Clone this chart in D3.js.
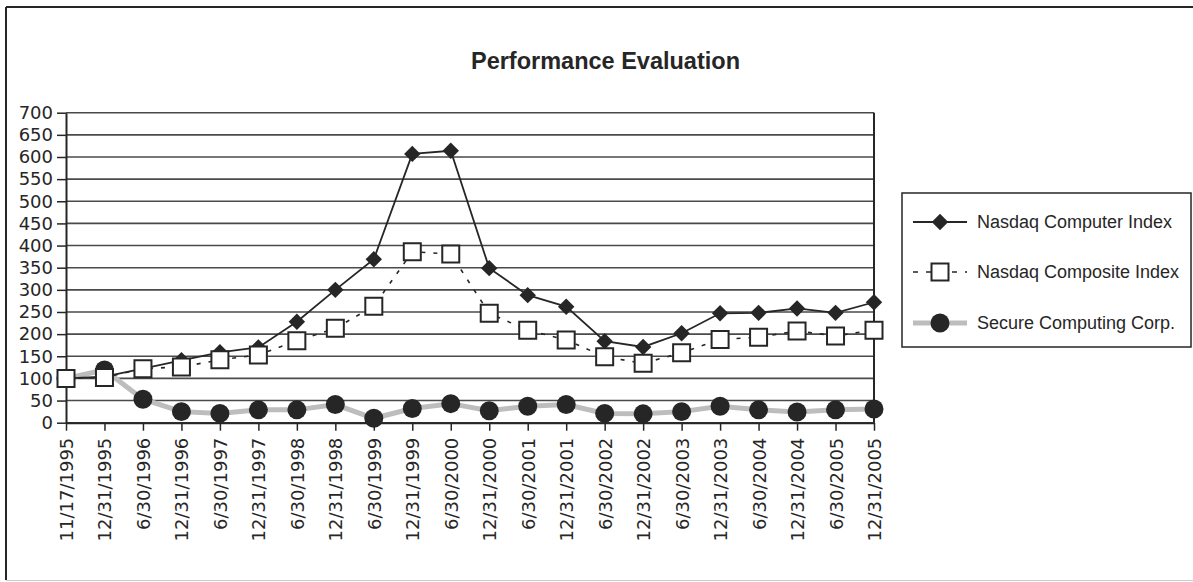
<!DOCTYPE html>
<html>
<head>
<meta charset="utf-8">
<script src="https://cdn.jsdelivr.net/npm/d3@7"></script>
<style>
  body { margin: 0; background: #fff; }
  svg { display: block; }
</style>
</head>
<body>
<div id="chart"></div>
<script>
// data
const dates = ["11/17/1995", "12/31/1995", "6/30/1996", "12/31/1996", "6/30/1997", "12/31/1997",
  "6/30/1998", "12/31/1998", "6/30/1999", "12/31/1999", "6/30/2000", "12/31/2000",
  "6/30/2001", "12/31/2001", "6/30/2002", "12/31/2002", "6/30/2003", "12/31/2003",
  "6/30/2004", "12/31/2004", "6/30/2005", "12/31/2005"];
const computerIndex = [100, 104, 122, 141, 159, 170, 228, 300, 369, 607, 614, 349,
  288, 262, 184, 171, 202, 247, 248, 258, 248, 272];
const compositeIndex = [100, 102, 122, 126, 142, 153, 185, 213, 263, 386, 381, 247,
  209, 187, 149, 134, 158, 188, 193, 207, 196, 209];
const secureComputing = [100, 119, 53, 25, 21, 29, 29, 41, 10, 32, 43, 27,
  37, 41, 21, 20, 25, 37, 29, 24, 29, 31];
const yTicks = [0, 50, 100, 150, 200, 250, 300, 350, 400, 450, 500, 550, 600, 650, 700];
const seriesNames = ["Nasdaq Computer Index", "Nasdaq Composite Index", "Secure Computing Corp."];

const W = 1193, H = 582;
const plot = {left: 66, right: 874, top: 112.7, bottom: 422.7};
const ink = "#262626";

const svg = d3.select("#chart").append("svg")
  .attr("width", W).attr("height", H);

// outer frame
svg.append("line").attr("x1", 6).attr("x2", 6).attr("y1", 7).attr("y2", 580)
  .attr("stroke", ink).attr("stroke-width", 2);
svg.append("line").attr("x1", 6).attr("x2", W).attr("y1", 7).attr("y2", 7)
  .attr("stroke", ink).attr("stroke-width", 2);
svg.append("line").attr("x1", 6).attr("x2", W).attr("y1", 580.5).attr("y2", 580.5)
  .attr("stroke", "#ccc").attr("stroke-width", 1);

svg.append("text")
  .attr("x", 605.5).attr("y", 69)
  .attr("text-anchor", "middle")
  .attr("font-family", "Liberation Sans, Arial, sans-serif")
  .attr("font-weight", "bold").attr("font-size", 23.5)
  .attr("fill", ink)
  .text("Performance Evaluation");

const x = d3.scalePoint().domain(dates).range([plot.left, plot.right]);
const y = d3.scaleLinear().domain([0, 700]).range([plot.bottom, plot.top]);

// gridlines
svg.append("g").selectAll("line").data(yTicks).join("line")
  .attr("x1", plot.left).attr("x2", plot.right)
  .attr("y1", d => y(d)).attr("y2", d => y(d))
  .attr("stroke", "#4a4a4a").attr("stroke-width", 1.6);

// plot frame right side
svg.append("line").attr("x1", plot.right).attr("x2", plot.right)
  .attr("y1", plot.top).attr("y2", plot.bottom)
  .attr("stroke", ink).attr("stroke-width", 2);

// axes
const yAxis = svg.append("g")
  .attr("transform", `translate(${plot.left},0)`)
  .call(d3.axisLeft(y).tickValues(yTicks).tickSize(9).tickPadding(4).tickSizeOuter(0));
yAxis.select(".domain").attr("stroke", ink).attr("stroke-width", 2);
yAxis.selectAll(".tick line").attr("stroke", ink).attr("stroke-width", 1.5);
yAxis.selectAll("text")
  .attr("font-family", "DejaVu Sans, sans-serif").attr("font-size", 18)
  .attr("fill", ink);

const xAxis = svg.append("g")
  .attr("transform", `translate(0,${plot.bottom})`)
  .call(d3.axisBottom(x).tickSize(8).tickSizeOuter(0));
xAxis.select(".domain").attr("stroke", ink).attr("stroke-width", 2);
xAxis.selectAll(".tick line").attr("stroke", ink).attr("stroke-width", 1.5);
xAxis.selectAll("text")
  .attr("font-family", "DejaVu Sans, sans-serif").attr("font-size", 18)
  .attr("fill", ink)
  .attr("text-anchor", "end")
  .attr("transform", "rotate(-90)")
  .attr("x", -15).attr("y", 0).attr("dy", "0.36em");

// symbols
const diamond = d3.symbol().type(d3.symbolSquare).size(135);
const square = d3.symbol().type(d3.symbolSquare).size(289);
const circle = d3.symbol().type(d3.symbolCircle).size(Math.PI * 90);

const line = d3.line().x((d, i) => x(dates[i])).y(d => y(d));

// Secure Computing Corp.
svg.append("path").datum(secureComputing)
  .attr("fill", "none").attr("stroke", "#bdbdbd").attr("stroke-width", 5)
  .attr("d", line);
svg.append("g").selectAll("path").data(secureComputing).join("path")
  .attr("transform", (d, i) => `translate(${x(dates[i])},${y(d)})`)
  .attr("d", circle).attr("fill", "#262626");

// Nasdaq Computer Index
svg.append("path").datum(computerIndex)
  .attr("fill", "none").attr("stroke", "#262626").attr("stroke-width", 1.8)
  .attr("d", line);
svg.append("g").selectAll("path").data(computerIndex).join("path")
  .attr("transform", (d, i) => `translate(${x(dates[i])},${y(d)}) rotate(45)`)
  .attr("d", diamond).attr("fill", "#262626");

// Nasdaq Composite Index
svg.append("path").datum(compositeIndex)
  .attr("fill", "none").attr("stroke", "#262626").attr("stroke-width", 1.6)
  .attr("stroke-dasharray", "4,8")
  .attr("d", line);
svg.append("g").selectAll("path").data(compositeIndex).join("path")
  .attr("transform", (d, i) => `translate(${x(dates[i])},${y(d)})`)
  .attr("d", square).attr("fill", "#fff").attr("stroke", "#262626").attr("stroke-width", 2);

// legend
const legend = svg.append("g");
legend.append("rect")
  .attr("x", 902).attr("y", 193).attr("width", 289).attr("height", 154)
  .attr("fill", "#fff").attr("stroke", ink).attr("stroke-width", 1.5);

const rows = [222, 272, 323];
const lx1 = 913, lx2 = 967, lmid = 940;

legend.append("line").attr("x1", lx1).attr("x2", lx2).attr("y1", rows[0]).attr("y2", rows[0])
  .attr("stroke", "#262626").attr("stroke-width", 1.8);
legend.append("path").attr("transform", `translate(${lmid},${rows[0]}) rotate(45)`)
  .attr("d", diamond).attr("fill", "#262626");

legend.append("line").attr("x1", lx1).attr("x2", lx2).attr("y1", rows[1]).attr("y2", rows[1])
  .attr("stroke", "#262626").attr("stroke-width", 1.6).attr("stroke-dasharray", "5,8");
legend.append("path").attr("transform", `translate(${lmid},${rows[1]})`)
  .attr("d", square).attr("fill", "#fff").attr("stroke", "#262626").attr("stroke-width", 2);

legend.append("line").attr("x1", lx1).attr("x2", lx2).attr("y1", rows[2]).attr("y2", rows[2])
  .attr("stroke", "#bdbdbd").attr("stroke-width", 5);
legend.append("path").attr("transform", `translate(${lmid},${rows[2]})`)
  .attr("d", circle).attr("fill", "#262626");

legend.selectAll("text").data(seriesNames).join("text")
  .attr("x", 977).attr("y", (d, i) => rows[i]).attr("dy", "0.35em")
  .attr("font-family", "Liberation Sans, Arial, sans-serif").attr("font-size", 18)
  .attr("fill", ink)
  .text(d => d);
</script>
</body>
</html>
